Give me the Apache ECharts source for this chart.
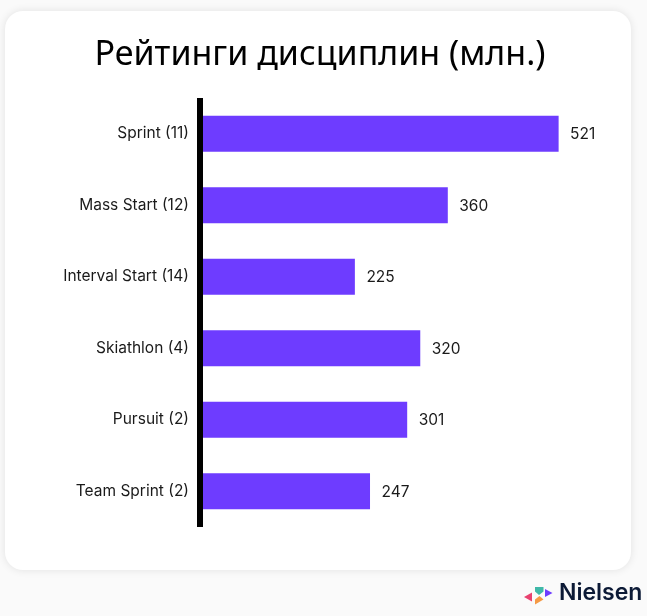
<!DOCTYPE html>
<html>
<head>
<meta charset="utf-8">
<style>html,body{margin:0;padding:0;background:#fafafa}#chart{width:647px;height:616px}</style>
<script src="https://cdn.jsdelivr.net/npm/echarts@6/dist/echarts.min.js"></script>
</head>
<body>
<div id="chart"></div>
<script>
// Ratings by discipline, millions of viewers
const titleText = 'Рейтинги дисциплин (млн.)';
const disciplines = ['Sprint (11)', 'Mass Start (12)', 'Interval Start (14)', 'Skiathlon (4)', 'Pursuit (2)', 'Team Sprint (2)'];
const ratings = [521, 360, 225, 320, 301, 247];
const brandName = 'Nielsen';

const chart = echarts.init(document.getElementById('chart'));

chart.setOption({
  animation: false,
  backgroundColor: '#fafafa',
  title: {
    text: titleText,
    left: 320.5,
    top: 33,
    textAlign: 'center',
    textStyle: { fontFamily: 'Noto Sans', fontSize: 34, fontWeight: 'normal', color: '#000' }
  },
  grid: { left: 200, top: 98, width: 413, height: 429 },
  xAxis: { type: 'value', min: 0, max: 600, show: false },
  yAxis: {
    type: 'category',
    data: disciplines,
    inverse: true,
    z: 5,
    axisLine: { show: true, lineStyle: { color: '#000', width: 6, cap: 'butt' } },
    axisTick: { show: false },
    axisLabel: { margin: 11, padding: [2, 0, 0, 0], fontFamily: 'Inter', fontSize: 15.5, color: '#1a1a1a' }
  },
  series: [{
    type: 'bar',
    data: ratings,
    barWidth: 36,
    itemStyle: { color: '#6e3cff' },
    label: {
      show: true,
      position: 'right',
      distance: 11.5,
      offset: [0, 1],
      fontFamily: 'Inter',
      fontSize: 15.5,
      color: '#1a1a1a'
    }
  }],
  graphic: [
    // White rounded card behind the chart
    {
      type: 'rect',
      z: -10,
      shape: { x: 5, y: 11, width: 626, height: 559, r: 18 },
      style: { fill: '#fff', shadowBlur: 8, shadowColor: 'rgba(0,0,0,0.10)' }
    },
    // Brand mark: four small arrowheads and the wordmark
    { type: 'polygon', shape: { points: [[524, 597], [532, 592.5], [532, 601.5]] }, style: { fill: '#e8416f' } },
    { type: 'polygon', shape: { points: [[535, 587], [543.5, 587], [543.5, 591.5], [539, 595], [535, 591.5]] }, style: { fill: '#3fb8a8' } },
    { type: 'polygon', shape: { points: [[545, 589], [552.5, 593], [545, 597]] }, style: { fill: '#6e3cff' } },
    { type: 'polygon', shape: { points: [[535, 599.5], [539.5, 596], [543.5, 599.5], [535, 604.5]] }, style: { fill: '#f59a45' } },
    {
      type: 'text',
      left: 559,
      top: 582,
      style: { text: brandName, fontFamily: 'Inter', fontSize: 23, fontWeight: 600, fill: '#0c1a36' }
    }
  ]
});
// Title sits slightly left of the card centre
chart.setOption({ title: { left: 315 } });
</script>
</body>
</html>
